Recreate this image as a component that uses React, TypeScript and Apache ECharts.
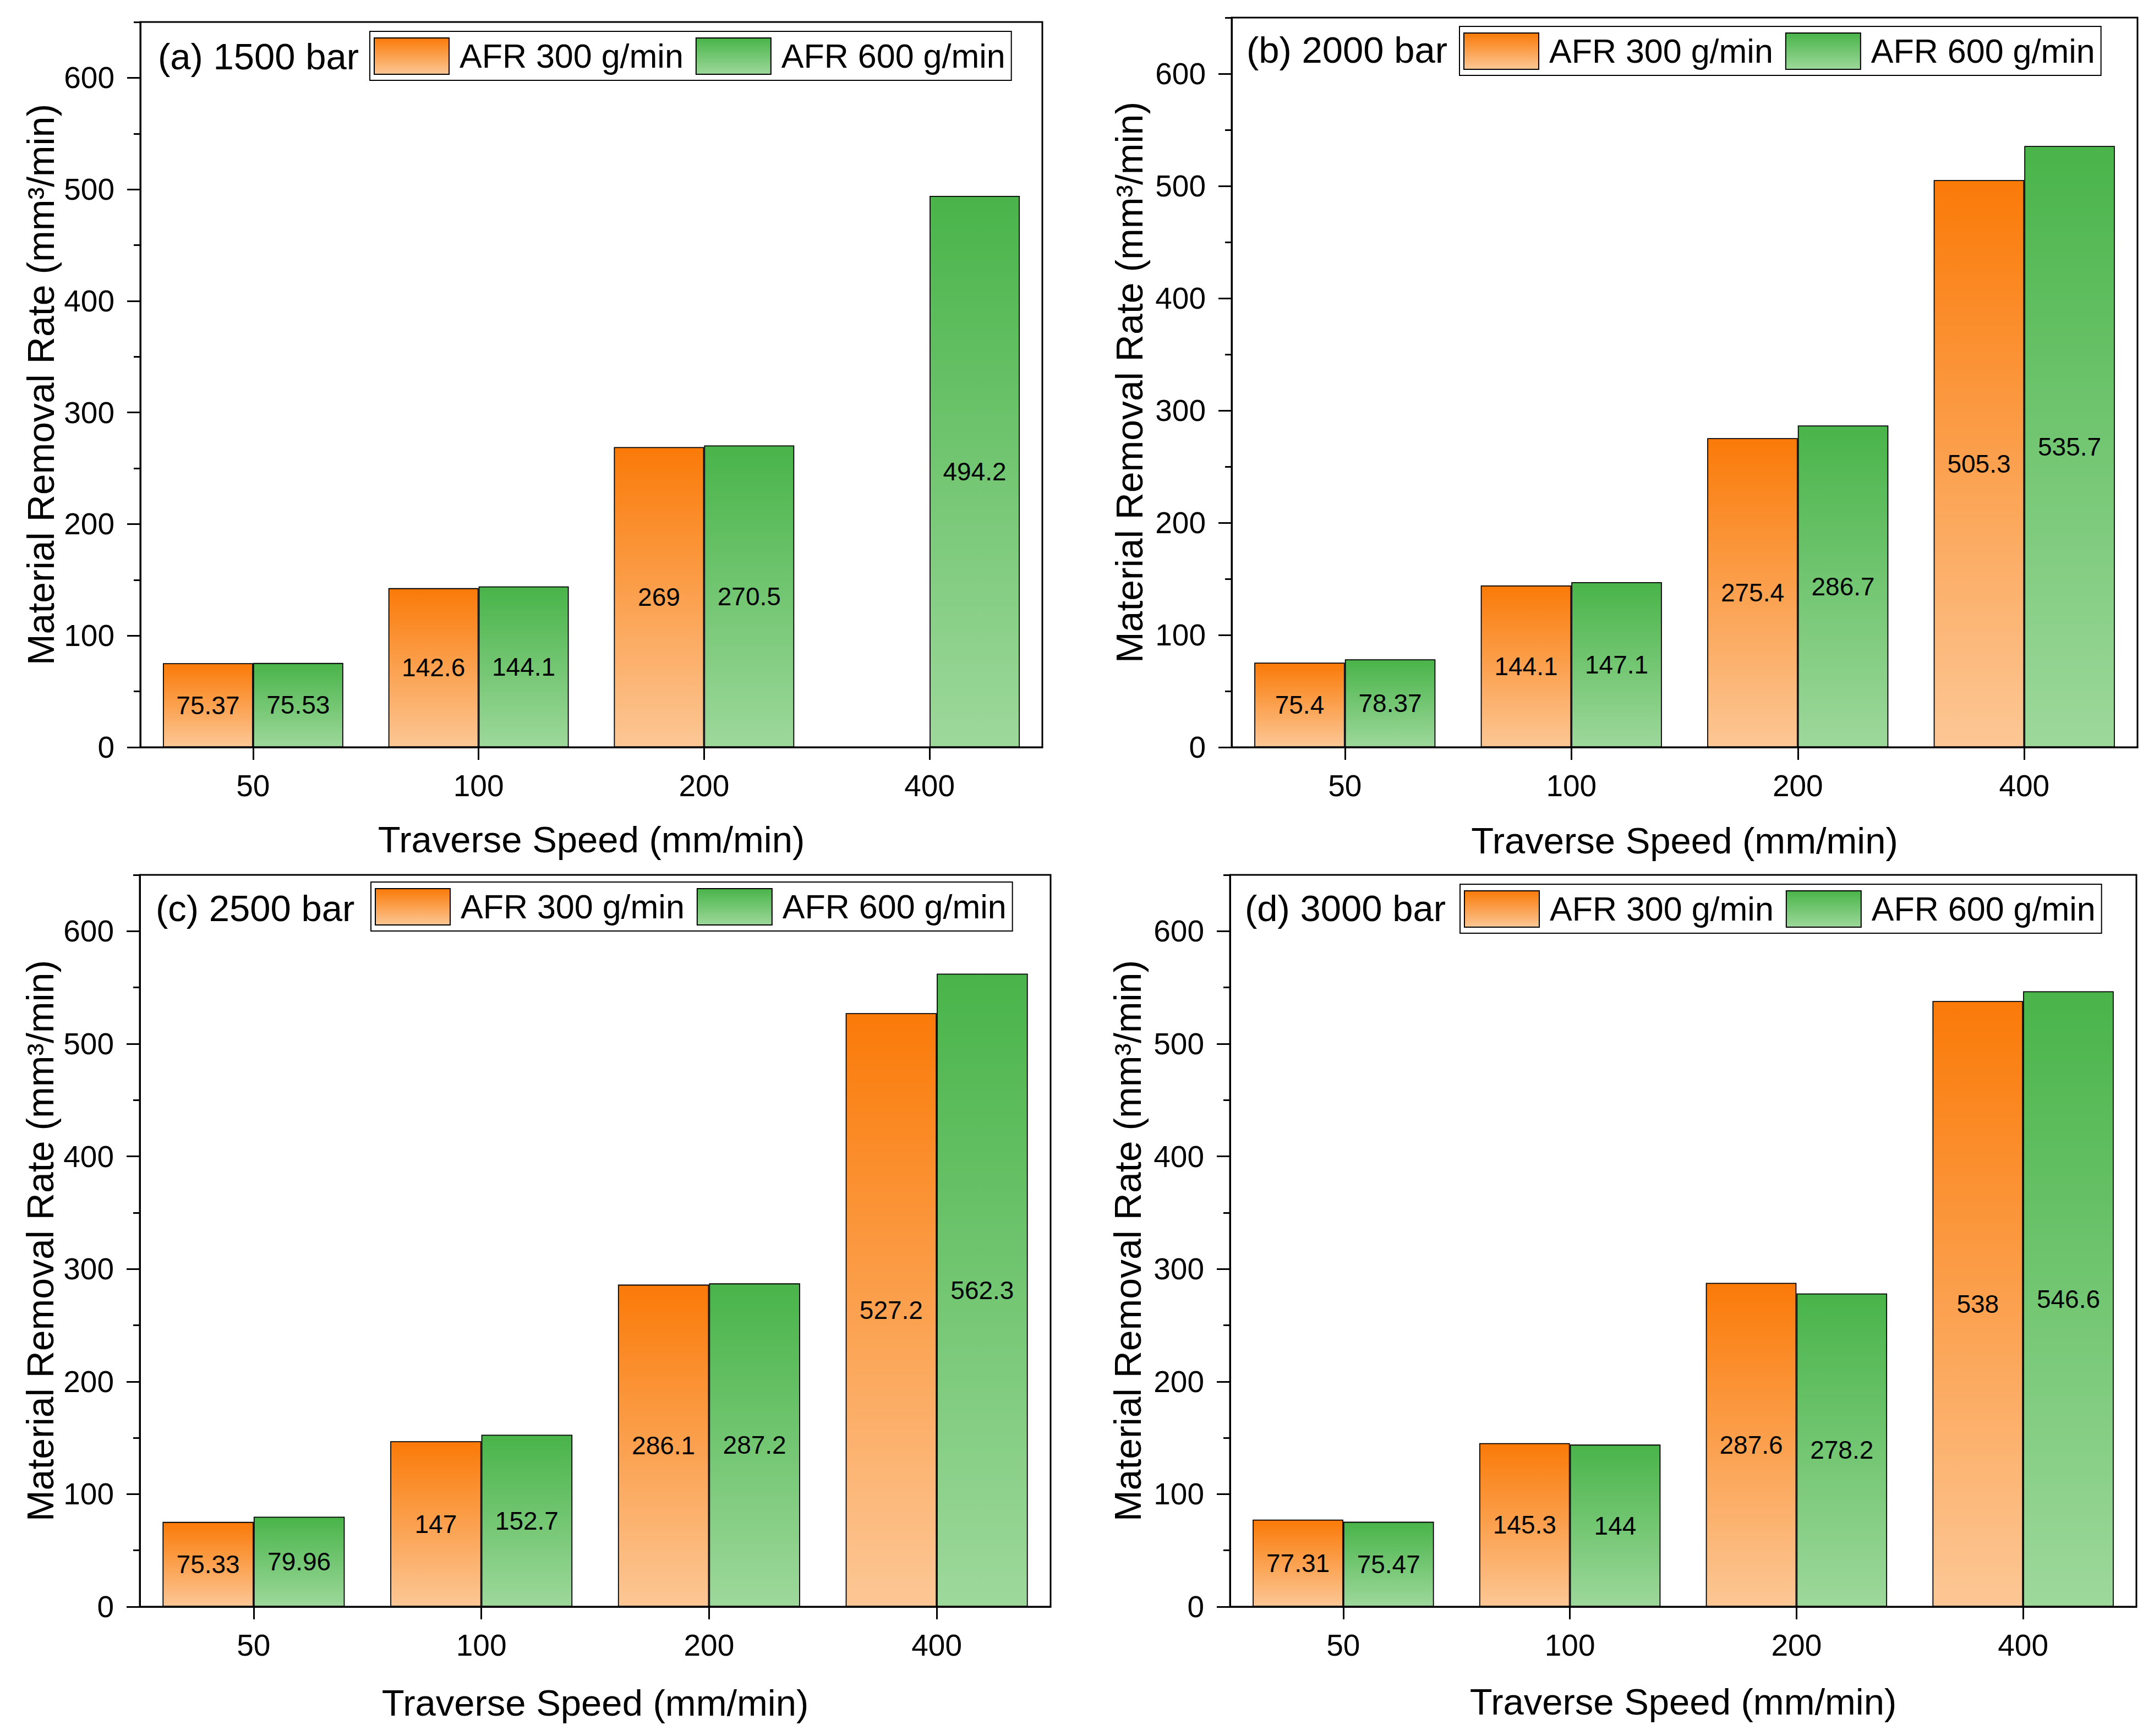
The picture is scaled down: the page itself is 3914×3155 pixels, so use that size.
import React, { useEffect, useRef } from "react";
import * as echarts from "echarts";

const categories = ["50", "100", "200", "400"];
const panelTitles = ["(a) 1500 bar", "(b) 2000 bar", "(c) 2500 bar", "(d) 3000 bar"];
const seriesNames = ["AFR 300 g/min", "AFR 600 g/min"];

const afr300_1500 = [75.37, 142.6, 269, null];
const afr600_1500 = [75.53, 144.1, 270.5, 494.2];
const afr300_2000 = [75.4, 144.1, 275.4, 505.3];
const afr600_2000 = [78.37, 147.1, 286.7, 535.7];
const afr300_2500 = [75.33, 147, 286.1, 527.2];
const afr600_2500 = [79.96, 152.7, 287.2, 562.3];
const afr300_3000 = [77.31, 145.3, 287.6, 538];
const afr600_3000 = [75.47, 144, 278.2, 546.6];

const yMajorTicks = [0, 100, 200, 300, 400, 500, 600];
const yMax = 650;

const xName = "Traverse Speed (mm/min)";
const yName = "Material Removal Rate (mm³/min)";

const panelData = [
  [afr300_1500, afr600_1500],
  [afr300_2000, afr600_2000],
  [afr300_2500, afr600_2500],
  [afr300_3000, afr600_3000],
];

const layout = [
  { left: 255, top: 40, width: 1639, height: 1318, titleX: 287, titleY: 102, legendX: 672, legendY: 57, yGap: 147, xGap: 134 },
  { left: 2238, top: 32, width: 1646, height: 1326, titleX: 2265, titleY: 90, legendX: 2652, legendY: 48, yGap: 152, xGap: 136 },
  { left: 254, top: 1590, width: 1655, height: 1330, titleX: 283, titleY: 1650, legendX: 674, legendY: 1603, yGap: 147, xGap: 141 },
  { left: 2235, top: 1590, width: 1647, height: 1330, titleX: 2262, titleY: 1650, legendX: 2653, legendY: 1607, yGap: 152, xGap: 139 },
];

const FONT = "'Liberation Sans', Arial, sans-serif";

const orangeGrad = () =>
  new echarts.graphic.LinearGradient(0, 0, 0, 1, [
    { offset: 0, color: "#FA7A08" },
    { offset: 1, color: "#FCC795" },
  ]);
const greenGrad = () =>
  new echarts.graphic.LinearGradient(0, 0, 0, 1, [
    { offset: 0, color: "#49B449" },
    { offset: 1, color: "#9DD89B" },
  ]);

function buildOption() {
  const grid: any[] = [];
  const xAxis: any[] = [];
  const yAxis: any[] = [];
  const series: any[] = [];
  const legend: any[] = [];
  const graphic: any[] = [];

  layout.forEach((p, i) => {
    grid.push({
      left: p.left,
      top: p.top,
      width: p.width,
      height: p.height,
      show: true,
      borderColor: "#000",
      borderWidth: 3,
      backgroundColor: "transparent",
      containLabel: false,
    });
    xAxis.push({
      type: "category",
      gridIndex: i,
      data: categories,
      boundaryGap: true,
      axisLine: { show: true, lineStyle: { color: "#000", width: 3 } },
      axisTick: { show: true, alignWithLabel: true, length: 23, lineStyle: { color: "#000", width: 3 } },
      axisLabel: { fontSize: 55, margin: 42, color: "#000", fontFamily: FONT },
      splitLine: { show: false },
      name: xName,
      nameLocation: "middle",
      nameGap: p.xGap,
      nameTextStyle: { fontSize: 67, color: "#000", fontFamily: FONT },
    });
    yAxis.push({
      type: "value",
      gridIndex: i,
      min: 0,
      max: yMax,
      interval: 100,
      position: "left",
      axisLine: { show: true, lineStyle: { color: "#000", width: 3 } },
      axisTick: { show: true, length: 24, lineStyle: { color: "#000", width: 3 }, customValues: yMajorTicks },
      axisLabel: { fontSize: 55, margin: 47, color: "#000", fontFamily: FONT, customValues: yMajorTicks },
      splitLine: { show: false },
      name: yName,
      nameLocation: "middle",
      nameGap: p.yGap,
      nameRotate: 90,
      nameTextStyle: { fontSize: 68, color: "#000", fontFamily: FONT },
    });
    yAxis.push({
      type: "value",
      gridIndex: i,
      min: 0,
      max: yMax,
      interval: 50,
      position: "left",
      offset: 0,
      axisLine: { show: false },
      axisTick: { show: true, length: 12, lineStyle: { color: "#000", width: 3 } },
      axisLabel: { show: false },
      splitLine: { show: false },
    });
    const [d300, d600] = panelData[i];
    [d300, d600].forEach((d, k) => {
      series.push({
        type: "bar",
        name: seriesNames[k],
        xAxisIndex: i,
        yAxisIndex: i * 2,
        data: d.map((v) => (v === null ? "-" : v)),
        barCategoryGap: "20%",
        barGap: "0%",
        itemStyle: {
          color: k === 0 ? orangeGrad() : greenGrad(),
          borderColor: "#000",
          borderWidth: 1.8,
        },
        label: {
          show: true,
          position: "inside",
          fontSize: 46,
          color: "#000",
          fontFamily: FONT,
          formatter: (prm: any) => String(prm.value),
        },
        emphasis: { disabled: true },
      });
    });
    legend.push({
      left: p.legendX,
      top: p.legendY,
      orient: "horizontal",
      data: seriesNames,
      icon: "rect",
      itemWidth: 136,
      itemHeight: 66,
      itemGap: 22,
      padding: [11, 11, 10, 7],
      borderColor: "#000",
      borderWidth: 2,
      backgroundColor: "#fff",
      selectedMode: false,
      textStyle: { fontSize: 61, color: "#000", fontFamily: FONT, padding: [0, 0, 0, 14] },
    });
    graphic.push({
      type: "text",
      x: p.titleX,
      y: p.titleY,
      style: {
        text: panelTitles[i],
        fontSize: 67,
        fontFamily: FONT,
        fill: "#000",
        verticalAlign: "middle",
        align: "left",
      },
    });
  });

  return {
    animation: false,
    backgroundColor: "#fff",
    textStyle: { fontFamily: FONT },
    grid,
    xAxis,
    yAxis,
    series,
    legend,
    graphic,
  };
}

export default function App() {
  const ref = useRef<HTMLDivElement>(null);
  useEffect(() => {
    document.body.style.margin = "0";
    if (!ref.current) return;
    const chart = echarts.init(ref.current, undefined, { renderer: "svg" });
    chart.setOption(buildOption() as any);
    return () => chart.dispose();
  }, []);
  return (
    <div
      ref={ref}
      style={{ position: "absolute", left: 0, top: 0, width: 3914, height: 3155, background: "#fff" }}
    />
  );
}
